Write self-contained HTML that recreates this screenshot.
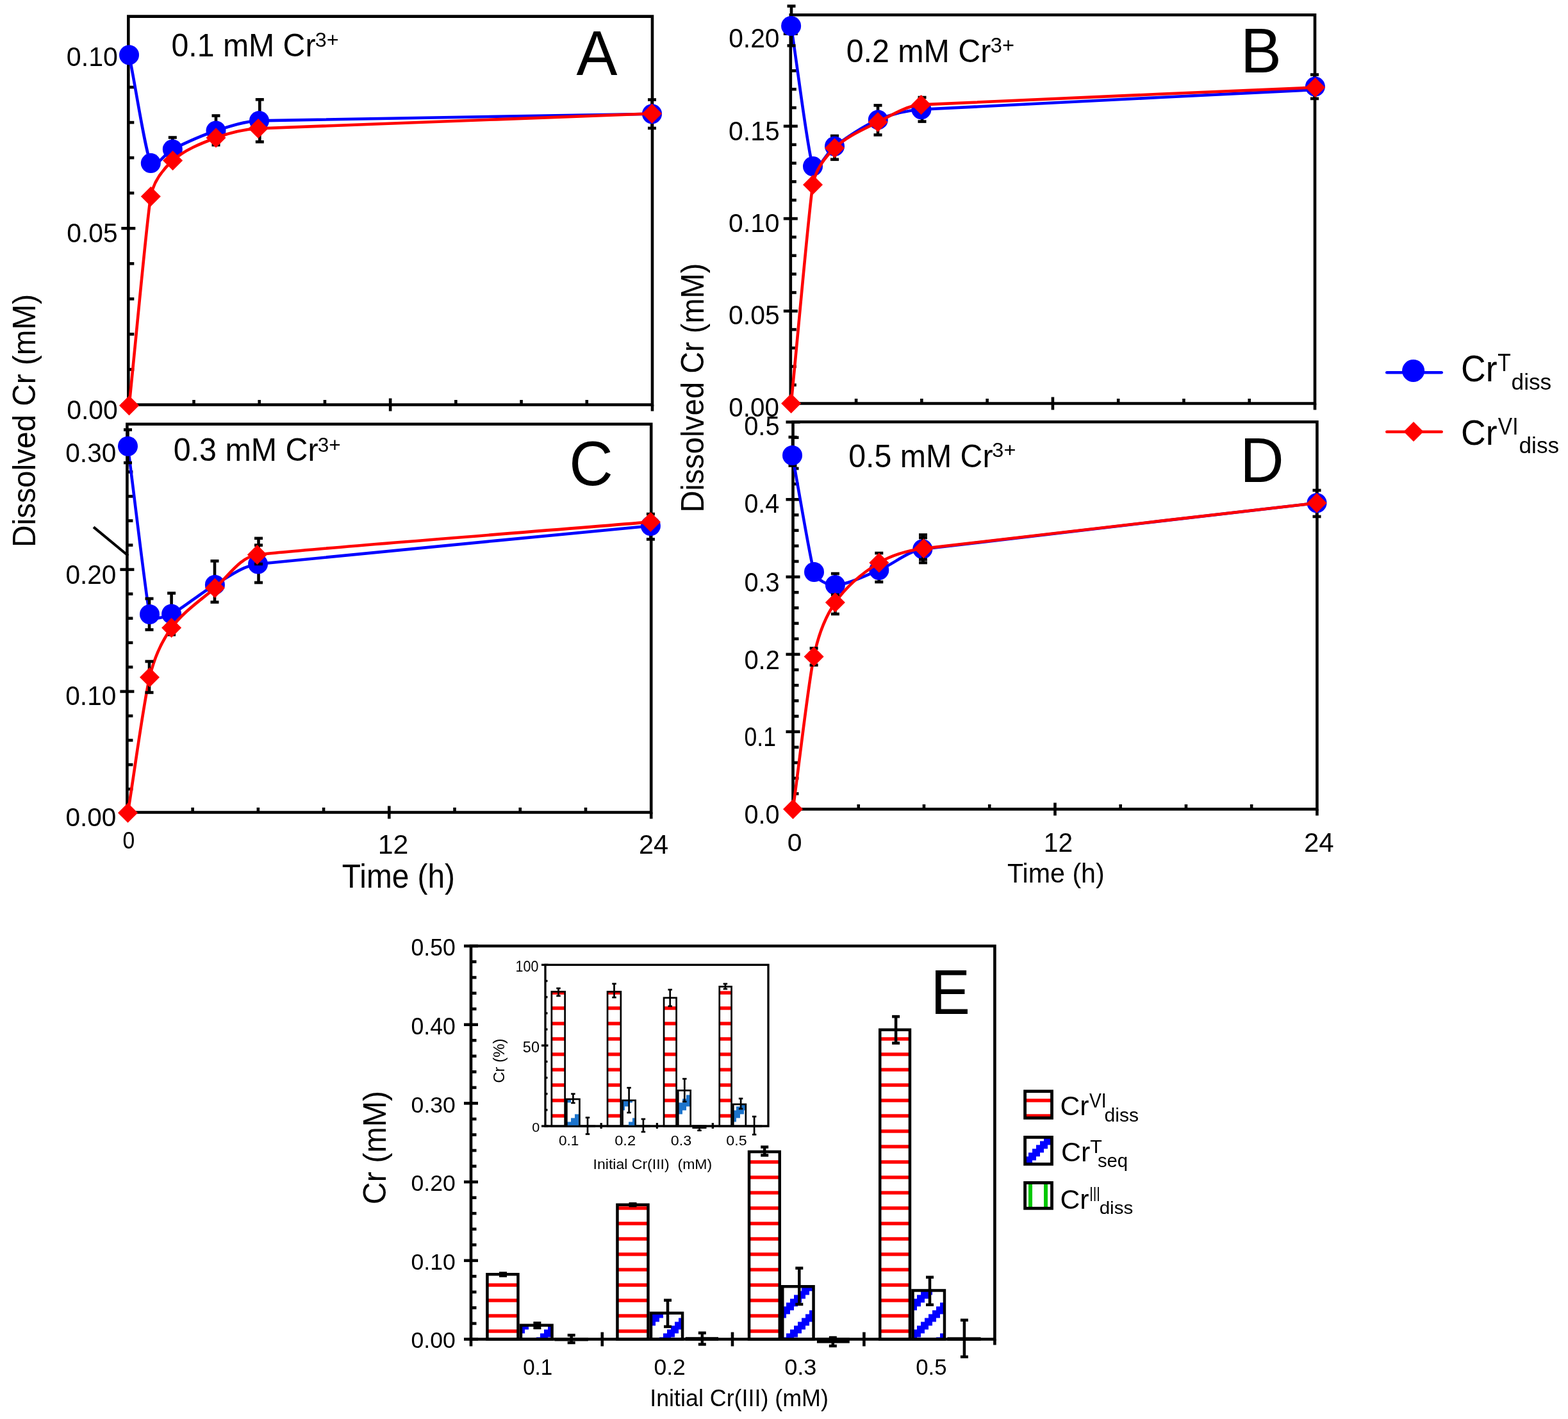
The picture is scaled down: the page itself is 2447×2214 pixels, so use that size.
<!DOCTYPE html>
<html><head><meta charset="utf-8"><title>Figure</title><style>html,body{margin:0;padding:0;background:#fff}svg{display:block}</style></head><body>
<svg width="2447" height="2214" viewBox="0 0 2447 2214" font-family="'Liberation Sans', Arial, Helvetica, sans-serif" fill="#000">
<rect width="2447" height="2214" fill="#fff"/>
<defs>
<pattern id="pr" patternUnits="userSpaceOnUse" x="0" y="0" width="24" height="24"><rect x="0" y="10.3" width="24" height="5.4" fill="#ff0000"/></pattern>
<pattern id="pg" patternUnits="userSpaceOnUse" x="-3" y="0" width="24" height="24"><rect x="0" y="0" width="6" height="24" fill="#00c800"/></pattern>
<pattern id="pb" patternUnits="userSpaceOnUse" x="3" y="4.4" width="48" height="48"><path d="M0 0h6v6h-6zM0 36h6v6h-6zM0 42h6v6h-6zM6 30h6v6h-6zM6 36h6v6h-6zM6 42h6v6h-6zM12 24h6v6h-6zM12 30h6v6h-6zM12 36h6v6h-6zM18 18h6v6h-6zM18 24h6v6h-6zM18 30h6v6h-6zM24 12h6v6h-6zM24 18h6v6h-6zM24 24h6v6h-6zM30 6h6v6h-6zM30 12h6v6h-6zM30 18h6v6h-6zM36 0h6v6h-6zM36 6h6v6h-6zM36 12h6v6h-6zM42 0h6v6h-6zM42 6h6v6h-6zM42 42h6v6h-6z" fill="#0000ff" shape-rendering="crispEdges"/></pattern>
<pattern id="pbi" patternUnits="userSpaceOnUse" x="3" y="4.4" width="48" height="48"><path d="M0 0h6v6h-6zM0 36h6v6h-6zM0 42h6v6h-6zM6 30h6v6h-6zM6 36h6v6h-6zM6 42h6v6h-6zM12 24h6v6h-6zM12 30h6v6h-6zM12 36h6v6h-6zM18 18h6v6h-6zM18 24h6v6h-6zM18 30h6v6h-6zM24 12h6v6h-6zM24 18h6v6h-6zM24 24h6v6h-6zM30 6h6v6h-6zM30 12h6v6h-6zM30 18h6v6h-6zM36 0h6v6h-6zM36 6h6v6h-6zM36 12h6v6h-6zM42 0h6v6h-6zM42 6h6v6h-6zM42 42h6v6h-6z" fill="#1c74cc" shape-rendering="crispEdges"/></pattern>
</defs>
<path d="M200.3 25.6H1018V631.5H200.3Z" fill="none" stroke="#000" stroke-width="4.6" stroke-linejoin="miter"/>
<line x1="189.3" y1="631.5" x2="211.3" y2="631.5" stroke="#000" stroke-width="4.6"/>
<line x1="200.3" y1="576.45" x2="209.3" y2="576.45" stroke="#000" stroke-width="4.6"/>
<line x1="200.3" y1="521.4" x2="209.3" y2="521.4" stroke="#000" stroke-width="4.6"/>
<line x1="200.3" y1="466.35" x2="209.3" y2="466.35" stroke="#000" stroke-width="4.6"/>
<line x1="200.3" y1="411.3" x2="209.3" y2="411.3" stroke="#000" stroke-width="4.6"/>
<line x1="189.3" y1="356.25" x2="211.3" y2="356.25" stroke="#000" stroke-width="4.6"/>
<line x1="200.3" y1="301.2" x2="209.3" y2="301.2" stroke="#000" stroke-width="4.6"/>
<line x1="200.3" y1="246.15" x2="209.3" y2="246.15" stroke="#000" stroke-width="4.6"/>
<line x1="200.3" y1="191.1" x2="209.3" y2="191.1" stroke="#000" stroke-width="4.6"/>
<line x1="200.3" y1="136.05" x2="209.3" y2="136.05" stroke="#000" stroke-width="4.6"/>
<line x1="189.3" y1="81" x2="211.3" y2="81" stroke="#000" stroke-width="4.6"/>
<line x1="302.51" y1="624" x2="302.51" y2="631.5" stroke="#000" stroke-width="4.6"/>
<line x1="404.73" y1="624" x2="404.73" y2="631.5" stroke="#000" stroke-width="4.6"/>
<line x1="506.94" y1="624" x2="506.94" y2="631.5" stroke="#000" stroke-width="4.6"/>
<line x1="711.36" y1="624" x2="711.36" y2="631.5" stroke="#000" stroke-width="4.6"/>
<line x1="813.58" y1="624" x2="813.58" y2="631.5" stroke="#000" stroke-width="4.6"/>
<line x1="915.79" y1="624" x2="915.79" y2="631.5" stroke="#000" stroke-width="4.6"/>
<line x1="609.15" y1="621.5" x2="609.15" y2="641.5" stroke="#000" stroke-width="4.6"/>
<line x1="1018" y1="631.5" x2="1018" y2="641.5" stroke="#000" stroke-width="4.6"/>
<text transform="translate(103.86 102.57) scale(0.9671 1)" font-size="42.51">0.10</text>
<text transform="translate(104.27 378.47) scale(0.9590 1)" font-size="42.51">0.05</text>
<text transform="translate(104.16 653.58) scale(0.9665 1)" font-size="42.37">0.00</text>
<text transform="translate(267.47 87.8) scale(0.9727 1)" font-size="49.58">0.1 mM Cr</text>
<text transform="translate(491.77 73.43) scale(1.0238 1)" font-size="31.57">3+</text>
<text transform="translate(899.41 117) scale(0.9677 1)" font-size="99.13">A</text>
<path d="M201.5 85.8C212.77 142.07 226.86 236.28 235.3 254.6C240.93 266.81 257.26 238.89 269.3 232.9C287.36 223.92 313.69 211.67 337 204C358.94 196.78 381.42 189.29 404.5 188.4C439.11 187.06 813.17 181.27 1017.5 177.7" fill="none" stroke="#0000ff" stroke-width="4.6" stroke-linejoin="round"/>
<line x1="269.3" y1="214.5" x2="269.3" y2="251.3" stroke="#000" stroke-width="4.6"/>
<line x1="262.8" y1="214.5" x2="275.8" y2="214.5" stroke="#000" stroke-width="4.6"/>
<line x1="262.8" y1="251.3" x2="275.8" y2="251.3" stroke="#000" stroke-width="4.6"/>
<line x1="337" y1="180.5" x2="337" y2="226.2" stroke="#000" stroke-width="4.6"/>
<line x1="330.5" y1="180.5" x2="343.5" y2="180.5" stroke="#000" stroke-width="4.6"/>
<line x1="330.5" y1="226.2" x2="343.5" y2="226.2" stroke="#000" stroke-width="4.6"/>
<line x1="405.3" y1="155.3" x2="405.3" y2="221.3" stroke="#000" stroke-width="4.6"/>
<line x1="398.8" y1="155.3" x2="411.8" y2="155.3" stroke="#000" stroke-width="4.6"/>
<line x1="398.8" y1="221.3" x2="411.8" y2="221.3" stroke="#000" stroke-width="4.6"/>
<line x1="1017.5" y1="155.5" x2="1017.5" y2="200" stroke="#000" stroke-width="4.6"/>
<line x1="1011" y1="155.5" x2="1024" y2="155.5" stroke="#000" stroke-width="4.6"/>
<line x1="1011" y1="200" x2="1024" y2="200" stroke="#000" stroke-width="4.6"/>
<circle cx="201.5" cy="85.8" r="15.5" fill="#0000ff"/>
<circle cx="235.3" cy="254.6" r="15.5" fill="#0000ff"/>
<circle cx="269.3" cy="232.9" r="15.5" fill="#0000ff"/>
<circle cx="337" cy="204" r="15.5" fill="#0000ff"/>
<circle cx="404.5" cy="188.4" r="15.5" fill="#0000ff"/>
<circle cx="1017.5" cy="177.7" r="15.5" fill="#0000ff"/>
<path d="M201.5 632.8C212.77 524 229.55 338.68 235.3 306.4C239.13 284.88 253.34 265.11 269.6 250.5C288.49 233.53 313.22 223.91 337 215C358.09 207.09 380.51 201.75 403 200.5C436.74 198.63 812.67 185.03 1017.5 177.3" fill="none" stroke="#ff0000" stroke-width="4.6" stroke-linejoin="round"/>
<path d="M201.5 617.3L217 632.8L201.5 648.3L186 632.8Z" fill="#ff0000"/>
<path d="M235.3 290.9L250.8 306.4L235.3 321.9L219.8 306.4Z" fill="#ff0000"/>
<path d="M269.6 235L285.1 250.5L269.6 266L254.1 250.5Z" fill="#ff0000"/>
<path d="M337 199.5L352.5 215L337 230.5L321.5 215Z" fill="#ff0000"/>
<path d="M403 185L418.5 200.5L403 216L387.5 200.5Z" fill="#ff0000"/>
<path d="M1017.5 161.8L1033 177.3L1017.5 192.8L1002 177.3Z" fill="#ff0000"/>
<path d="M1233.8 23.3H2052V629.5H1233.8Z" fill="none" stroke="#000" stroke-width="4.6" stroke-linejoin="miter"/>
<line x1="1222.8" y1="629.5" x2="1244.8" y2="629.5" stroke="#000" stroke-width="4.6"/>
<line x1="1233.8" y1="600.66" x2="1242.8" y2="600.66" stroke="#000" stroke-width="4.6"/>
<line x1="1233.8" y1="571.82" x2="1242.8" y2="571.82" stroke="#000" stroke-width="4.6"/>
<line x1="1233.8" y1="542.98" x2="1242.8" y2="542.98" stroke="#000" stroke-width="4.6"/>
<line x1="1233.8" y1="514.14" x2="1242.8" y2="514.14" stroke="#000" stroke-width="4.6"/>
<line x1="1222.8" y1="485.3" x2="1244.8" y2="485.3" stroke="#000" stroke-width="4.6"/>
<line x1="1233.8" y1="456.46" x2="1242.8" y2="456.46" stroke="#000" stroke-width="4.6"/>
<line x1="1233.8" y1="427.62" x2="1242.8" y2="427.62" stroke="#000" stroke-width="4.6"/>
<line x1="1233.8" y1="398.78" x2="1242.8" y2="398.78" stroke="#000" stroke-width="4.6"/>
<line x1="1233.8" y1="369.94" x2="1242.8" y2="369.94" stroke="#000" stroke-width="4.6"/>
<line x1="1222.8" y1="341.1" x2="1244.8" y2="341.1" stroke="#000" stroke-width="4.6"/>
<line x1="1233.8" y1="312.26" x2="1242.8" y2="312.26" stroke="#000" stroke-width="4.6"/>
<line x1="1233.8" y1="283.42" x2="1242.8" y2="283.42" stroke="#000" stroke-width="4.6"/>
<line x1="1233.8" y1="254.58" x2="1242.8" y2="254.58" stroke="#000" stroke-width="4.6"/>
<line x1="1233.8" y1="225.74" x2="1242.8" y2="225.74" stroke="#000" stroke-width="4.6"/>
<line x1="1222.8" y1="196.9" x2="1244.8" y2="196.9" stroke="#000" stroke-width="4.6"/>
<line x1="1233.8" y1="168.06" x2="1242.8" y2="168.06" stroke="#000" stroke-width="4.6"/>
<line x1="1233.8" y1="139.22" x2="1242.8" y2="139.22" stroke="#000" stroke-width="4.6"/>
<line x1="1233.8" y1="110.38" x2="1242.8" y2="110.38" stroke="#000" stroke-width="4.6"/>
<line x1="1222.8" y1="52.7" x2="1244.8" y2="52.7" stroke="#000" stroke-width="4.6"/>
<line x1="1336.08" y1="622" x2="1336.08" y2="629.5" stroke="#000" stroke-width="4.6"/>
<line x1="1438.35" y1="622" x2="1438.35" y2="629.5" stroke="#000" stroke-width="4.6"/>
<line x1="1540.62" y1="622" x2="1540.62" y2="629.5" stroke="#000" stroke-width="4.6"/>
<line x1="1745.17" y1="622" x2="1745.17" y2="629.5" stroke="#000" stroke-width="4.6"/>
<line x1="1847.45" y1="622" x2="1847.45" y2="629.5" stroke="#000" stroke-width="4.6"/>
<line x1="1949.72" y1="622" x2="1949.72" y2="629.5" stroke="#000" stroke-width="4.6"/>
<line x1="1642.9" y1="619.5" x2="1642.9" y2="639.5" stroke="#000" stroke-width="4.6"/>
<line x1="2052" y1="629.5" x2="2052" y2="639.5" stroke="#000" stroke-width="4.6"/>
<text transform="translate(1137.17 73.78) scale(0.9614 1)" font-size="42.37">0.20</text>
<text transform="translate(1137.06 219.07) scale(0.9565 1)" font-size="42.8">0.15</text>
<text transform="translate(1137.07 362.48) scale(0.9836 1)" font-size="41.53">0.10</text>
<text transform="translate(1137.06 506.48) scale(0.9693 1)" font-size="42.23">0.05</text>
<text transform="translate(1137.29 650.38) scale(0.9558 1)" font-size="42.23">0.00</text>
<text transform="translate(1320.67 96.51) scale(0.9781 1)" font-size="49.44">0.2 mM Cr</text>
<text transform="translate(1545.76 81.68) scale(1.0037 1)" font-size="32.49">3+</text>
<text transform="translate(1936.05 112.7) scale(0.9752 1)" font-size="98.11">B</text>
<path d="M1234.6 40.5C1245.9 113.5 1260.65 237.8 1268.5 259.5C1273.73 273.97 1289.98 237.23 1302.5 228.3C1321.29 214.9 1345.93 197.25 1370.3 186.9C1391.62 177.85 1414.79 172.39 1437.9 170.8C1472.56 168.42 1847.7 150.27 2052.6 140" fill="none" stroke="#0000ff" stroke-width="4.6" stroke-linejoin="round"/>
<line x1="1235" y1="9.5" x2="1235" y2="71.2" stroke="#000" stroke-width="4.6"/>
<line x1="1228.5" y1="9.5" x2="1241.5" y2="9.5" stroke="#000" stroke-width="4.6"/>
<line x1="1228.5" y1="71.2" x2="1241.5" y2="71.2" stroke="#000" stroke-width="4.6"/>
<line x1="1302.5" y1="212" x2="1302.5" y2="248.8" stroke="#000" stroke-width="4.6"/>
<line x1="1296" y1="212" x2="1309" y2="212" stroke="#000" stroke-width="4.6"/>
<line x1="1296" y1="248.8" x2="1309" y2="248.8" stroke="#000" stroke-width="4.6"/>
<line x1="1370" y1="164.4" x2="1370" y2="210.5" stroke="#000" stroke-width="4.6"/>
<line x1="1363.5" y1="164.4" x2="1376.5" y2="164.4" stroke="#000" stroke-width="4.6"/>
<line x1="1363.5" y1="210.5" x2="1376.5" y2="210.5" stroke="#000" stroke-width="4.6"/>
<line x1="1439" y1="152" x2="1439" y2="189.6" stroke="#000" stroke-width="4.6"/>
<line x1="1432.5" y1="152" x2="1445.5" y2="152" stroke="#000" stroke-width="4.6"/>
<line x1="1432.5" y1="189.6" x2="1445.5" y2="189.6" stroke="#000" stroke-width="4.6"/>
<line x1="2051.5" y1="116.5" x2="2051.5" y2="153.9" stroke="#000" stroke-width="4.6"/>
<line x1="2045" y1="116.5" x2="2058" y2="116.5" stroke="#000" stroke-width="4.6"/>
<line x1="2045" y1="153.9" x2="2058" y2="153.9" stroke="#000" stroke-width="4.6"/>
<circle cx="1234.6" cy="40.5" r="15.5" fill="#0000ff"/>
<circle cx="1268.5" cy="259.5" r="15.5" fill="#0000ff"/>
<circle cx="1302.5" cy="228.3" r="15.5" fill="#0000ff"/>
<circle cx="1370.3" cy="186.9" r="15.5" fill="#0000ff"/>
<circle cx="1437.9" cy="170.8" r="15.5" fill="#0000ff"/>
<circle cx="2052.4" cy="135.1" r="15.5" fill="#0000ff"/>
<path d="M1234.6 629.6C1245.9 515.8 1262.91 321 1268.5 288.2C1272.22 266.33 1286.51 246.37 1302.5 231C1321.4 212.82 1346.55 202.34 1370 190.6C1391.69 179.74 1413.32 165.32 1437.5 163.4C1473.77 160.52 1847.57 145.4 2052.6 136.4" fill="none" stroke="#ff0000" stroke-width="4.6" stroke-linejoin="round"/>
<path d="M1234.6 614.1L1250.1 629.6L1234.6 645.1L1219.1 629.6Z" fill="#ff0000"/>
<path d="M1268.5 272.7L1284 288.2L1268.5 303.7L1253 288.2Z" fill="#ff0000"/>
<path d="M1302.5 215.5L1318 231L1302.5 246.5L1287 231Z" fill="#ff0000"/>
<path d="M1370 175.1L1385.5 190.6L1370 206.1L1354.5 190.6Z" fill="#ff0000"/>
<path d="M1437.5 147.9L1453 163.4L1437.5 178.9L1422 163.4Z" fill="#ff0000"/>
<path d="M2052.6 120.9L2068.1 136.4L2052.6 151.9L2037.1 136.4Z" fill="#ff0000"/>
<path d="M198.4 661.7H1016.2V1267.5H198.4Z" fill="none" stroke="#000" stroke-width="4.6" stroke-linejoin="miter"/>
<line x1="187.4" y1="1269.2" x2="209.4" y2="1269.2" stroke="#000" stroke-width="4.6"/>
<line x1="198.4" y1="1231.14" x2="207.4" y2="1231.14" stroke="#000" stroke-width="4.6"/>
<line x1="198.4" y1="1193.08" x2="207.4" y2="1193.08" stroke="#000" stroke-width="4.6"/>
<line x1="198.4" y1="1155.02" x2="207.4" y2="1155.02" stroke="#000" stroke-width="4.6"/>
<line x1="198.4" y1="1116.96" x2="207.4" y2="1116.96" stroke="#000" stroke-width="4.6"/>
<line x1="187.4" y1="1078.9" x2="209.4" y2="1078.9" stroke="#000" stroke-width="4.6"/>
<line x1="198.4" y1="1040.84" x2="207.4" y2="1040.84" stroke="#000" stroke-width="4.6"/>
<line x1="198.4" y1="1002.78" x2="207.4" y2="1002.78" stroke="#000" stroke-width="4.6"/>
<line x1="198.4" y1="964.72" x2="207.4" y2="964.72" stroke="#000" stroke-width="4.6"/>
<line x1="198.4" y1="926.66" x2="207.4" y2="926.66" stroke="#000" stroke-width="4.6"/>
<line x1="187.4" y1="888.6" x2="209.4" y2="888.6" stroke="#000" stroke-width="4.6"/>
<line x1="198.4" y1="850.54" x2="207.4" y2="850.54" stroke="#000" stroke-width="4.6"/>
<line x1="198.4" y1="812.48" x2="207.4" y2="812.48" stroke="#000" stroke-width="4.6"/>
<line x1="198.4" y1="774.42" x2="207.4" y2="774.42" stroke="#000" stroke-width="4.6"/>
<line x1="198.4" y1="736.36" x2="207.4" y2="736.36" stroke="#000" stroke-width="4.6"/>
<line x1="187.4" y1="698.3" x2="209.4" y2="698.3" stroke="#000" stroke-width="4.6"/>
<line x1="300.62" y1="1260" x2="300.62" y2="1267.5" stroke="#000" stroke-width="4.6"/>
<line x1="402.85" y1="1260" x2="402.85" y2="1267.5" stroke="#000" stroke-width="4.6"/>
<line x1="505.08" y1="1260" x2="505.08" y2="1267.5" stroke="#000" stroke-width="4.6"/>
<line x1="709.53" y1="1260" x2="709.53" y2="1267.5" stroke="#000" stroke-width="4.6"/>
<line x1="811.75" y1="1260" x2="811.75" y2="1267.5" stroke="#000" stroke-width="4.6"/>
<line x1="913.98" y1="1260" x2="913.98" y2="1267.5" stroke="#000" stroke-width="4.6"/>
<line x1="607.3" y1="1257.5" x2="607.3" y2="1277.5" stroke="#000" stroke-width="4.6"/>
<line x1="1016.2" y1="1267.5" x2="1016.2" y2="1277.5" stroke="#000" stroke-width="4.6"/>
<text transform="translate(102.27 721.48) scale(0.9621 1)" font-size="42.23">0.30</text>
<text transform="translate(102.38 910.98) scale(0.9641 1)" font-size="42.09">0.20</text>
<text transform="translate(102.27 1100.48) scale(0.9621 1)" font-size="42.23">0.10</text>
<text transform="translate(102.38 1289.09) scale(0.9839 1)" font-size="41.24">0.00</text>
<text transform="translate(270.66 719.41) scale(0.9798 1)" font-size="49.44">0.3 mM Cr</text>
<text transform="translate(495.7 705.38) scale(0.9887 1)" font-size="31.92">3+</text>
<text transform="translate(888.26 757.11) scale(0.9561 1)" font-size="99.15">C</text>
<text transform="translate(191.55 1324.34) scale(0.9315 1)" font-size="36.16">0</text>
<text transform="translate(589.64 1332.2) scale(1.0185 1)" font-size="42.12">12</text>
<text transform="translate(996.93 1332.2) scale(0.9846 1)" font-size="42.12">24</text>
<path d="M199.5 696.3C210.83 783.7 229.21 942 233.5 958.5C236.36 969.5 257.24 962.69 267.6 958C283.14 950.97 311.82 926.03 335.4 912.4C356.93 899.96 377.96 883.33 402.6 880C439.57 875 811.13 840.33 1015.4 820.5" fill="none" stroke="#0000ff" stroke-width="4.6" stroke-linejoin="round"/>
<line x1="199.5" y1="670.5" x2="199.5" y2="722" stroke="#000" stroke-width="4.6"/>
<line x1="193" y1="670.5" x2="206" y2="670.5" stroke="#000" stroke-width="4.6"/>
<line x1="193" y1="722" x2="206" y2="722" stroke="#000" stroke-width="4.6"/>
<line x1="233" y1="934" x2="233" y2="982.5" stroke="#000" stroke-width="4.6"/>
<line x1="226.5" y1="934" x2="239.5" y2="934" stroke="#000" stroke-width="4.6"/>
<line x1="226.5" y1="982.5" x2="239.5" y2="982.5" stroke="#000" stroke-width="4.6"/>
<line x1="267.6" y1="925.5" x2="267.6" y2="990.3" stroke="#000" stroke-width="4.6"/>
<line x1="261.1" y1="925.5" x2="274.1" y2="925.5" stroke="#000" stroke-width="4.6"/>
<line x1="261.1" y1="990.3" x2="274.1" y2="990.3" stroke="#000" stroke-width="4.6"/>
<line x1="335" y1="875.3" x2="335" y2="939.5" stroke="#000" stroke-width="4.6"/>
<line x1="328.5" y1="875.3" x2="341.5" y2="875.3" stroke="#000" stroke-width="4.6"/>
<line x1="328.5" y1="939.5" x2="341.5" y2="939.5" stroke="#000" stroke-width="4.6"/>
<line x1="403.5" y1="839.9" x2="403.5" y2="909" stroke="#000" stroke-width="4.6"/>
<line x1="397" y1="839.9" x2="410" y2="839.9" stroke="#000" stroke-width="4.6"/>
<line x1="397" y1="909" x2="410" y2="909" stroke="#000" stroke-width="4.6"/>
<line x1="1015.4" y1="802" x2="1015.4" y2="841.4" stroke="#000" stroke-width="4.6"/>
<line x1="1008.9" y1="802" x2="1021.9" y2="802" stroke="#000" stroke-width="4.6"/>
<line x1="1008.9" y1="841.4" x2="1021.9" y2="841.4" stroke="#000" stroke-width="4.6"/>
<circle cx="199.5" cy="696.3" r="15.5" fill="#0000ff"/>
<circle cx="233.5" cy="958.5" r="15.5" fill="#0000ff"/>
<circle cx="267.6" cy="958" r="15.5" fill="#0000ff"/>
<circle cx="335.4" cy="912.4" r="15.5" fill="#0000ff"/>
<circle cx="402.6" cy="880" r="15.5" fill="#0000ff"/>
<circle cx="1015.4" cy="820.5" r="15.5" fill="#0000ff"/>
<path d="M199.5 1268.3C210.83 1197.77 223.82 1097.73 233.5 1056.7C239.95 1029.35 251.01 1002.28 267.6 979.6C285.71 954.85 312.05 937.29 335.4 917.4C356.69 899.26 373.75 869.79 401.4 865.6C442.88 859.32 810.73 831.47 1015.4 814.4" fill="none" stroke="#ff0000" stroke-width="4.6" stroke-linejoin="round"/>
<line x1="233" y1="1032" x2="233" y2="1080.5" stroke="#000" stroke-width="4.6"/>
<line x1="226.5" y1="1032" x2="239.5" y2="1032" stroke="#000" stroke-width="4.6"/>
<line x1="226.5" y1="1080.5" x2="239.5" y2="1080.5" stroke="#000" stroke-width="4.6"/>
<line x1="403.5" y1="850.6" x2="403.5" y2="880" stroke="#000" stroke-width="4.6"/>
<line x1="397" y1="850.6" x2="410" y2="850.6" stroke="#000" stroke-width="4.6"/>
<line x1="397" y1="880" x2="410" y2="880" stroke="#000" stroke-width="4.6"/>
<path d="M199.5 1252.8L215 1268.3L199.5 1283.8L184 1268.3Z" fill="#ff0000"/>
<path d="M233.5 1041.2L249 1056.7L233.5 1072.2L218 1056.7Z" fill="#ff0000"/>
<path d="M267.6 964.1L283.1 979.6L267.6 995.1L252.1 979.6Z" fill="#ff0000"/>
<path d="M335.4 901.9L350.9 917.4L335.4 932.9L319.9 917.4Z" fill="#ff0000"/>
<path d="M401.4 850.1L416.9 865.6L401.4 881.1L385.9 865.6Z" fill="#ff0000"/>
<path d="M1015.4 798.9L1030.9 814.4L1015.4 829.9L999.9 814.4Z" fill="#ff0000"/>
<path d="M1237.5 658.2H2055.4V1262.5H1237.5Z" fill="none" stroke="#000" stroke-width="4.6" stroke-linejoin="miter"/>
<line x1="1226.5" y1="1262.5" x2="1248.5" y2="1262.5" stroke="#000" stroke-width="4.6"/>
<line x1="1237.5" y1="1238.34" x2="1246.5" y2="1238.34" stroke="#000" stroke-width="4.6"/>
<line x1="1237.5" y1="1214.18" x2="1246.5" y2="1214.18" stroke="#000" stroke-width="4.6"/>
<line x1="1237.5" y1="1190.02" x2="1246.5" y2="1190.02" stroke="#000" stroke-width="4.6"/>
<line x1="1237.5" y1="1165.86" x2="1246.5" y2="1165.86" stroke="#000" stroke-width="4.6"/>
<line x1="1226.5" y1="1141.7" x2="1248.5" y2="1141.7" stroke="#000" stroke-width="4.6"/>
<line x1="1237.5" y1="1117.54" x2="1246.5" y2="1117.54" stroke="#000" stroke-width="4.6"/>
<line x1="1237.5" y1="1093.38" x2="1246.5" y2="1093.38" stroke="#000" stroke-width="4.6"/>
<line x1="1237.5" y1="1069.22" x2="1246.5" y2="1069.22" stroke="#000" stroke-width="4.6"/>
<line x1="1237.5" y1="1045.06" x2="1246.5" y2="1045.06" stroke="#000" stroke-width="4.6"/>
<line x1="1226.5" y1="1020.9" x2="1248.5" y2="1020.9" stroke="#000" stroke-width="4.6"/>
<line x1="1237.5" y1="996.74" x2="1246.5" y2="996.74" stroke="#000" stroke-width="4.6"/>
<line x1="1237.5" y1="972.58" x2="1246.5" y2="972.58" stroke="#000" stroke-width="4.6"/>
<line x1="1237.5" y1="948.42" x2="1246.5" y2="948.42" stroke="#000" stroke-width="4.6"/>
<line x1="1237.5" y1="924.26" x2="1246.5" y2="924.26" stroke="#000" stroke-width="4.6"/>
<line x1="1226.5" y1="900.1" x2="1248.5" y2="900.1" stroke="#000" stroke-width="4.6"/>
<line x1="1237.5" y1="875.94" x2="1246.5" y2="875.94" stroke="#000" stroke-width="4.6"/>
<line x1="1237.5" y1="851.78" x2="1246.5" y2="851.78" stroke="#000" stroke-width="4.6"/>
<line x1="1237.5" y1="827.62" x2="1246.5" y2="827.62" stroke="#000" stroke-width="4.6"/>
<line x1="1237.5" y1="803.46" x2="1246.5" y2="803.46" stroke="#000" stroke-width="4.6"/>
<line x1="1226.5" y1="779.3" x2="1248.5" y2="779.3" stroke="#000" stroke-width="4.6"/>
<line x1="1237.5" y1="755.14" x2="1246.5" y2="755.14" stroke="#000" stroke-width="4.6"/>
<line x1="1237.5" y1="730.98" x2="1246.5" y2="730.98" stroke="#000" stroke-width="4.6"/>
<line x1="1237.5" y1="706.82" x2="1246.5" y2="706.82" stroke="#000" stroke-width="4.6"/>
<line x1="1237.5" y1="682.66" x2="1246.5" y2="682.66" stroke="#000" stroke-width="4.6"/>
<line x1="1226.5" y1="658.5" x2="1248.5" y2="658.5" stroke="#000" stroke-width="4.6"/>
<line x1="1339.74" y1="1255" x2="1339.74" y2="1262.5" stroke="#000" stroke-width="4.6"/>
<line x1="1441.97" y1="1255" x2="1441.97" y2="1262.5" stroke="#000" stroke-width="4.6"/>
<line x1="1544.21" y1="1255" x2="1544.21" y2="1262.5" stroke="#000" stroke-width="4.6"/>
<line x1="1748.69" y1="1255" x2="1748.69" y2="1262.5" stroke="#000" stroke-width="4.6"/>
<line x1="1850.93" y1="1255" x2="1850.93" y2="1262.5" stroke="#000" stroke-width="4.6"/>
<line x1="1953.16" y1="1255" x2="1953.16" y2="1262.5" stroke="#000" stroke-width="4.6"/>
<line x1="1646.45" y1="1252.5" x2="1646.45" y2="1272.5" stroke="#000" stroke-width="4.6"/>
<line x1="2055.4" y1="1262.5" x2="2055.4" y2="1272.5" stroke="#000" stroke-width="4.6"/>
<text transform="translate(1161.21 678.58) scale(0.9527 1)" font-size="41.81">0.5</text>
<text transform="translate(1161.43 800.38) scale(0.9341 1)" font-size="42.09">0.4</text>
<text transform="translate(1161.41 922.88) scale(0.9442 1)" font-size="42.09">0.3</text>
<text transform="translate(1161.4 1043.67) scale(0.9391 1)" font-size="42.51">0.2</text>
<text transform="translate(1161.58 1164.08) scale(0.8487 1)" font-size="41.81">0.1</text>
<text transform="translate(1161.42 1284.98) scale(0.9462 1)" font-size="41.81">0.0</text>
<text transform="translate(1324.17 728.61) scale(0.9772 1)" font-size="49.44">0.5 mM Cr</text>
<text transform="translate(1548.36 713.19) scale(1.0321 1)" font-size="31.5">3+</text>
<text transform="translate(1935.13 751.9) scale(0.9588 1)" font-size="98.84">D</text>
<text transform="translate(1228.76 1327.8) scale(1.0331 1)" font-size="39.69">0</text>
<text transform="translate(1628.8 1328.8) scale(0.9518 1)" font-size="42.84">12</text>
<text transform="translate(2034.9 1328.5) scale(0.9950 1)" font-size="42.26">24</text>
<path d="M1236.5 710.5C1247.83 771.17 1264.43 874.15 1270.5 892.5C1274.55 904.73 1290.52 913.18 1303.4 912.8C1322.72 912.23 1349.52 898.65 1371.8 889.5C1395.07 879.95 1414.94 860.61 1439.8 856.8C1477.09 851.09 1849.93 808.8 2055 784.8" fill="none" stroke="#0000ff" stroke-width="4.6" stroke-linejoin="round"/>
<line x1="1237" y1="682" x2="1237" y2="726.5" stroke="#000" stroke-width="4.6"/>
<line x1="1230.5" y1="682" x2="1243.5" y2="682" stroke="#000" stroke-width="4.6"/>
<line x1="1230.5" y1="726.5" x2="1243.5" y2="726.5" stroke="#000" stroke-width="4.6"/>
<line x1="1303.4" y1="895" x2="1303.4" y2="935" stroke="#000" stroke-width="4.6"/>
<line x1="1296.9" y1="895" x2="1309.9" y2="895" stroke="#000" stroke-width="4.6"/>
<line x1="1296.9" y1="935" x2="1309.9" y2="935" stroke="#000" stroke-width="4.6"/>
<line x1="1371.8" y1="863" x2="1371.8" y2="908" stroke="#000" stroke-width="4.6"/>
<line x1="1365.3" y1="863" x2="1378.3" y2="863" stroke="#000" stroke-width="4.6"/>
<line x1="1365.3" y1="908" x2="1378.3" y2="908" stroke="#000" stroke-width="4.6"/>
<line x1="1440.5" y1="834.5" x2="1440.5" y2="878" stroke="#000" stroke-width="4.6"/>
<line x1="1434" y1="834.5" x2="1447" y2="834.5" stroke="#000" stroke-width="4.6"/>
<line x1="1434" y1="878" x2="1447" y2="878" stroke="#000" stroke-width="4.6"/>
<line x1="2055" y1="765" x2="2055" y2="806" stroke="#000" stroke-width="4.6"/>
<line x1="2048.5" y1="765" x2="2061.5" y2="765" stroke="#000" stroke-width="4.6"/>
<line x1="2048.5" y1="806" x2="2061.5" y2="806" stroke="#000" stroke-width="4.6"/>
<circle cx="1236.5" cy="710.5" r="15.5" fill="#0000ff"/>
<circle cx="1270.5" cy="892.5" r="15.5" fill="#0000ff"/>
<circle cx="1303.4" cy="912.8" r="15.5" fill="#0000ff"/>
<circle cx="1371.8" cy="889.5" r="15.5" fill="#0000ff"/>
<circle cx="1439.8" cy="856.8" r="15.5" fill="#0000ff"/>
<circle cx="2055" cy="784.8" r="15.5" fill="#0000ff"/>
<path d="M1237.5 1262.5C1248.37 1183.13 1261.02 1068.8 1270.1 1024.4C1276.15 994.8 1286.15 964.91 1303.4 940.1C1320.96 914.83 1345.54 894.15 1371.8 878.1C1392.56 865.41 1417.19 859.09 1441.3 855.8C1477.46 850.86 1850.43 808.47 2055 784.8" fill="none" stroke="#ff0000" stroke-width="4.6" stroke-linejoin="round"/>
<line x1="1270.1" y1="1011.5" x2="1270.1" y2="1037.7" stroke="#000" stroke-width="4.6"/>
<line x1="1263.6" y1="1011.5" x2="1276.6" y2="1011.5" stroke="#000" stroke-width="4.6"/>
<line x1="1263.6" y1="1037.7" x2="1276.6" y2="1037.7" stroke="#000" stroke-width="4.6"/>
<line x1="1303.4" y1="928" x2="1303.4" y2="958" stroke="#000" stroke-width="4.6"/>
<line x1="1296.9" y1="928" x2="1309.9" y2="928" stroke="#000" stroke-width="4.6"/>
<line x1="1296.9" y1="958" x2="1309.9" y2="958" stroke="#000" stroke-width="4.6"/>
<line x1="1440.5" y1="839" x2="1440.5" y2="873" stroke="#000" stroke-width="4.6"/>
<line x1="1434" y1="839" x2="1447" y2="839" stroke="#000" stroke-width="4.6"/>
<line x1="1434" y1="873" x2="1447" y2="873" stroke="#000" stroke-width="4.6"/>
<path d="M1237.5 1247L1253 1262.5L1237.5 1278L1222 1262.5Z" fill="#ff0000"/>
<path d="M1270.1 1008.9L1285.6 1024.4L1270.1 1039.9L1254.6 1024.4Z" fill="#ff0000"/>
<path d="M1303.4 924.6L1318.9 940.1L1303.4 955.6L1287.9 940.1Z" fill="#ff0000"/>
<path d="M1371.8 862.6L1387.3 878.1L1371.8 893.6L1356.3 878.1Z" fill="#ff0000"/>
<path d="M1441.3 840.3L1456.8 855.8L1441.3 871.3L1425.8 855.8Z" fill="#ff0000"/>
<path d="M2055 769.3L2070.5 784.8L2055 800.3L2039.5 784.8Z" fill="#ff0000"/>
<text transform="translate(533.85 1385.1) scale(0.9317 1)" font-size="51.31" style="white-space:pre">Time (h)</text>
<text transform="translate(1571.99 1376.8) scale(0.9511 1)" font-size="43.31" style="white-space:pre">Time (h)</text>
<text transform="translate(54.88 853.92) rotate(-90) scale(0.9717 1)" font-size="49.14">Dissolved Cr (mM)</text>
<text transform="translate(1098.13 799.55) rotate(-90) scale(0.9520 1)" font-size="49.36">Dissolved Cr (mM)</text>
<line x1="146" y1="822.4" x2="200" y2="867" stroke="#000" stroke-width="4.2"/>
<line x1="2164.3" y1="581.3" x2="2249.7" y2="581.3" stroke="#0000ff" stroke-width="4.6" stroke-linecap="round"/>
<circle cx="2205.6" cy="578.5" r="17.5" fill="#0000ff"/>
<line x1="2164.3" y1="673.7" x2="2249.7" y2="673.7" stroke="#ff0000" stroke-width="4.6" stroke-linecap="round"/>
<path d="M2206 658L2221.5 673.5L2206 689L2190.5 673.5Z" fill="#ff0000"/>
<text transform="translate(2280.12 595.33) scale(0.9471 1)" font-size="56.64">Cr</text>
<text transform="translate(2337.26 579) scale(0.8849 1)" font-size="37.94">T</text>
<text transform="translate(2358.52 607.65) scale(1.0159 1)" font-size="34.74">diss</text>
<text transform="translate(2280.12 693.84) scale(0.9640 1)" font-size="55.65">Cr</text>
<text transform="translate(2337.87 677.7) scale(0.9015 1)" font-size="37.06">VI</text>
<text transform="translate(2370.52 706.65) scale(1.0125 1)" font-size="34.74">diss</text>
<path d="M735 1476H1552.4V2089.5H735Z" fill="none" stroke="#000" stroke-width="4.6" stroke-linejoin="miter"/>
<line x1="724" y1="2089.5" x2="746" y2="2089.5" stroke="#000" stroke-width="4.6"/>
<line x1="735" y1="2064.96" x2="743.5" y2="2064.96" stroke="#000" stroke-width="4.6"/>
<line x1="735" y1="2040.42" x2="743.5" y2="2040.42" stroke="#000" stroke-width="4.6"/>
<line x1="735" y1="2015.88" x2="743.5" y2="2015.88" stroke="#000" stroke-width="4.6"/>
<line x1="735" y1="1991.34" x2="743.5" y2="1991.34" stroke="#000" stroke-width="4.6"/>
<line x1="724" y1="1966.8" x2="746" y2="1966.8" stroke="#000" stroke-width="4.6"/>
<line x1="735" y1="1942.26" x2="743.5" y2="1942.26" stroke="#000" stroke-width="4.6"/>
<line x1="735" y1="1917.72" x2="743.5" y2="1917.72" stroke="#000" stroke-width="4.6"/>
<line x1="735" y1="1893.18" x2="743.5" y2="1893.18" stroke="#000" stroke-width="4.6"/>
<line x1="735" y1="1868.64" x2="743.5" y2="1868.64" stroke="#000" stroke-width="4.6"/>
<line x1="724" y1="1844.1" x2="746" y2="1844.1" stroke="#000" stroke-width="4.6"/>
<line x1="735" y1="1819.56" x2="743.5" y2="1819.56" stroke="#000" stroke-width="4.6"/>
<line x1="735" y1="1795.02" x2="743.5" y2="1795.02" stroke="#000" stroke-width="4.6"/>
<line x1="735" y1="1770.48" x2="743.5" y2="1770.48" stroke="#000" stroke-width="4.6"/>
<line x1="735" y1="1745.94" x2="743.5" y2="1745.94" stroke="#000" stroke-width="4.6"/>
<line x1="724" y1="1721.4" x2="746" y2="1721.4" stroke="#000" stroke-width="4.6"/>
<line x1="735" y1="1696.86" x2="743.5" y2="1696.86" stroke="#000" stroke-width="4.6"/>
<line x1="735" y1="1672.32" x2="743.5" y2="1672.32" stroke="#000" stroke-width="4.6"/>
<line x1="735" y1="1647.78" x2="743.5" y2="1647.78" stroke="#000" stroke-width="4.6"/>
<line x1="735" y1="1623.24" x2="743.5" y2="1623.24" stroke="#000" stroke-width="4.6"/>
<line x1="724" y1="1598.7" x2="746" y2="1598.7" stroke="#000" stroke-width="4.6"/>
<line x1="735" y1="1574.16" x2="743.5" y2="1574.16" stroke="#000" stroke-width="4.6"/>
<line x1="735" y1="1549.62" x2="743.5" y2="1549.62" stroke="#000" stroke-width="4.6"/>
<line x1="735" y1="1525.08" x2="743.5" y2="1525.08" stroke="#000" stroke-width="4.6"/>
<line x1="735" y1="1500.54" x2="743.5" y2="1500.54" stroke="#000" stroke-width="4.6"/>
<line x1="724" y1="1476" x2="746" y2="1476" stroke="#000" stroke-width="4.6"/>
<line x1="939.8" y1="2078.5" x2="939.8" y2="2100.5" stroke="#000" stroke-width="4.6"/>
<line x1="1143" y1="2078.5" x2="1143" y2="2100.5" stroke="#000" stroke-width="4.6"/>
<line x1="1348.4" y1="2078.5" x2="1348.4" y2="2100.5" stroke="#000" stroke-width="4.6"/>
<line x1="735" y1="2089.5" x2="735" y2="2100.5" stroke="#000" stroke-width="4.6"/>
<line x1="1552.4" y1="2089.5" x2="1552.4" y2="2098.5" stroke="#000" stroke-width="4.6"/>
<text transform="translate(641.58 1491.24) scale(0.9884 1)" font-size="36.02">0.50</text>
<text transform="translate(641.58 1614.44) scale(0.9884 1)" font-size="36.02">0.40</text>
<text transform="translate(641.58 1735.85) scale(1.0246 1)" font-size="34.75">0.30</text>
<text transform="translate(641.58 1858.25) scale(1.0122 1)" font-size="35.17">0.20</text>
<text transform="translate(641.58 1981.25) scale(1.0122 1)" font-size="35.17">0.10</text>
<text transform="translate(641.58 2102.75) scale(1.0122 1)" font-size="35.17">0.00</text>
<text transform="translate(816.17 2145.15) scale(0.9549 1)" font-size="34.75">0.1</text>
<text transform="translate(1020.48 2145.15) scale(1.0228 1)" font-size="34.75">0.2</text>
<text transform="translate(1224.15 2145.15) scale(1.0402 1)" font-size="34.75">0.3</text>
<text x="1429.31" y="2145.15" font-size="34.75">0.5</text>
<text transform="translate(1014.2 2194.4) scale(0.9747 1)" font-size="36.77" style="white-space:pre">Initial Cr(III) (mM)</text>
<text transform="translate(601.83 1879.22) rotate(-90) scale(0.9805 1)" font-size="49.36">Cr (mM)</text>
<text transform="translate(1452.55 1581.8) scale(0.9342 1)" font-size="98.55">E</text>
<rect x="760.45" y="1988.25" width="48" height="101.2" fill="url(#pr)" stroke="#000" stroke-width="4.5"/>
<rect x="812.95" y="2067.75" width="48.6" height="21.7" fill="url(#pb)" stroke="#000" stroke-width="4.5"/>
<rect x="867.65" y="2089.55" width="48" height="0.6" fill="url(#pg)" stroke="#000" stroke-width="4.5"/>
<rect x="963.45" y="1879.75" width="48" height="209.7" fill="url(#pr)" stroke="#000" stroke-width="4.5"/>
<rect x="1015.95" y="2048.75" width="49.1" height="40.7" fill="url(#pb)" stroke="#000" stroke-width="4.5"/>
<rect x="1071.85" y="2088.45" width="46.9" height="1" fill="url(#pg)" stroke="#000" stroke-width="4.5"/>
<rect x="1169.05" y="1797.05" width="47.7" height="292.4" fill="url(#pr)" stroke="#000" stroke-width="4.5"/>
<rect x="1221.25" y="2007.25" width="48.3" height="82.2" fill="url(#pb)" stroke="#000" stroke-width="4.5"/>
<rect x="1277.15" y="2089.55" width="46.4" height="3.8" fill="url(#pg)" stroke="#000" stroke-width="4.5"/>
<rect x="1373.25" y="1606.75" width="46.7" height="482.7" fill="url(#pr)" stroke="#000" stroke-width="4.5"/>
<rect x="1424.45" y="2013.45" width="49.5" height="76" fill="url(#pb)" stroke="#000" stroke-width="4.5"/>
<rect x="1480.65" y="2088.65" width="47.7" height="0.8" fill="url(#pg)" stroke="#000" stroke-width="4.5"/>
<line x1="785" y1="1986.5" x2="785" y2="1990.5" stroke="#000" stroke-width="4.5"/>
<line x1="779" y1="1986.5" x2="791" y2="1986.5" stroke="#000" stroke-width="4.5"/>
<line x1="779" y1="1990.5" x2="791" y2="1990.5" stroke="#000" stroke-width="4.5"/>
<line x1="838.4" y1="2064.3" x2="838.4" y2="2071.8" stroke="#000" stroke-width="4.5"/>
<line x1="832.4" y1="2064.3" x2="844.4" y2="2064.3" stroke="#000" stroke-width="4.5"/>
<line x1="832.4" y1="2071.8" x2="844.4" y2="2071.8" stroke="#000" stroke-width="4.5"/>
<line x1="891.7" y1="2083.2" x2="891.7" y2="2095" stroke="#000" stroke-width="4.5"/>
<line x1="885.7" y1="2083.2" x2="897.7" y2="2083.2" stroke="#000" stroke-width="4.5"/>
<line x1="885.7" y1="2095" x2="897.7" y2="2095" stroke="#000" stroke-width="4.5"/>
<line x1="987.5" y1="1878.2" x2="987.5" y2="1881.2" stroke="#000" stroke-width="4.5"/>
<line x1="981.5" y1="1878.2" x2="993.5" y2="1878.2" stroke="#000" stroke-width="4.5"/>
<line x1="981.5" y1="1881.2" x2="993.5" y2="1881.2" stroke="#000" stroke-width="4.5"/>
<line x1="1042" y1="2028.7" x2="1042" y2="2069.9" stroke="#000" stroke-width="4.5"/>
<line x1="1036" y1="2028.7" x2="1048" y2="2028.7" stroke="#000" stroke-width="4.5"/>
<line x1="1036" y1="2069.9" x2="1048" y2="2069.9" stroke="#000" stroke-width="4.5"/>
<line x1="1095.8" y1="2079.7" x2="1095.8" y2="2097.5" stroke="#000" stroke-width="4.5"/>
<line x1="1089.8" y1="2079.7" x2="1101.8" y2="2079.7" stroke="#000" stroke-width="4.5"/>
<line x1="1089.8" y1="2097.5" x2="1101.8" y2="2097.5" stroke="#000" stroke-width="4.5"/>
<line x1="1193.2" y1="1789.6" x2="1193.2" y2="1802.5" stroke="#000" stroke-width="4.5"/>
<line x1="1187.2" y1="1789.6" x2="1199.2" y2="1789.6" stroke="#000" stroke-width="4.5"/>
<line x1="1187.2" y1="1802.5" x2="1199.2" y2="1802.5" stroke="#000" stroke-width="4.5"/>
<line x1="1247.3" y1="1978.6" x2="1247.3" y2="2035" stroke="#000" stroke-width="4.5"/>
<line x1="1241.3" y1="1978.6" x2="1253.3" y2="1978.6" stroke="#000" stroke-width="4.5"/>
<line x1="1241.3" y1="2035" x2="1253.3" y2="2035" stroke="#000" stroke-width="4.5"/>
<line x1="1299.8" y1="2087" x2="1299.8" y2="2100" stroke="#000" stroke-width="4.5"/>
<line x1="1293.8" y1="2087" x2="1305.8" y2="2087" stroke="#000" stroke-width="4.5"/>
<line x1="1293.8" y1="2100" x2="1305.8" y2="2100" stroke="#000" stroke-width="4.5"/>
<line x1="1398.1" y1="1586.1" x2="1398.1" y2="1627.5" stroke="#000" stroke-width="4.5"/>
<line x1="1392.1" y1="1586.1" x2="1404.1" y2="1586.1" stroke="#000" stroke-width="4.5"/>
<line x1="1392.1" y1="1627.5" x2="1404.1" y2="1627.5" stroke="#000" stroke-width="4.5"/>
<line x1="1451" y1="1992.8" x2="1451" y2="2035.8" stroke="#000" stroke-width="4.5"/>
<line x1="1445" y1="1992.8" x2="1457" y2="1992.8" stroke="#000" stroke-width="4.5"/>
<line x1="1445" y1="2035.8" x2="1457" y2="2035.8" stroke="#000" stroke-width="4.5"/>
<line x1="1504.9" y1="2059.7" x2="1504.9" y2="2117" stroke="#000" stroke-width="4.5"/>
<line x1="1498.9" y1="2059.7" x2="1510.9" y2="2059.7" stroke="#000" stroke-width="4.5"/>
<line x1="1498.9" y1="2117" x2="1510.9" y2="2117" stroke="#000" stroke-width="4.5"/>
<rect x="851" y="1505.4" width="348" height="251.6" fill="#fff" stroke="none"/>
<path d="M851 1505.4H1199V1757H851Z" fill="none" stroke="#000" stroke-width="3.3" stroke-linejoin="miter"/>
<line x1="845" y1="1757" x2="855.5" y2="1757" stroke="#000" stroke-width="3.3"/>
<line x1="851" y1="1731.84" x2="854.5" y2="1731.84" stroke="#000" stroke-width="3.3"/>
<line x1="851" y1="1706.68" x2="854.5" y2="1706.68" stroke="#000" stroke-width="3.3"/>
<line x1="851" y1="1681.52" x2="854.5" y2="1681.52" stroke="#000" stroke-width="3.3"/>
<line x1="851" y1="1656.36" x2="854.5" y2="1656.36" stroke="#000" stroke-width="3.3"/>
<line x1="845" y1="1631.2" x2="855.5" y2="1631.2" stroke="#000" stroke-width="3.3"/>
<line x1="851" y1="1606.04" x2="854.5" y2="1606.04" stroke="#000" stroke-width="3.3"/>
<line x1="851" y1="1580.88" x2="854.5" y2="1580.88" stroke="#000" stroke-width="3.3"/>
<line x1="851" y1="1555.72" x2="854.5" y2="1555.72" stroke="#000" stroke-width="3.3"/>
<line x1="851" y1="1530.56" x2="854.5" y2="1530.56" stroke="#000" stroke-width="3.3"/>
<line x1="845" y1="1505.4" x2="855.5" y2="1505.4" stroke="#000" stroke-width="3.3"/>
<line x1="938.2" y1="1752" x2="938.2" y2="1761" stroke="#000" stroke-width="3.3"/>
<line x1="1025.4" y1="1752" x2="1025.4" y2="1761" stroke="#000" stroke-width="3.3"/>
<line x1="1112.3" y1="1752" x2="1112.3" y2="1761" stroke="#000" stroke-width="3.3"/>
<text transform="translate(804.57 1515.56) scale(0.9112 1)" font-size="23.59">100</text>
<text transform="translate(815.86 1641.76) scale(0.9730 1)" font-size="24.15">50</text>
<text transform="translate(830.14 1765.8) scale(1.0820 1)" font-size="19.92">0</text>
<text transform="translate(787.11 1689.7) rotate(-90) scale(0.9807 1)" font-size="24.46">Cr (%)</text>
<text transform="translate(871.99 1787.08) scale(1.0349 1)" font-size="21.89">0.1</text>
<text transform="translate(959.15 1787.08) scale(1.0857 1)" font-size="21.89">0.2</text>
<text transform="translate(1046.87 1787.08) scale(1.0632 1)" font-size="21.89">0.3</text>
<text transform="translate(1133.37 1787.08) scale(1.0616 1)" font-size="21.89">0.5</text>
<text transform="translate(925.58 1824.4) scale(1.0237 1)" font-size="22.53" style="white-space:pre">Initial Cr(III)  (mM)</text>
<rect x="860.85" y="1547.25" width="20.8" height="209.9" fill="url(#pr)" stroke="#000" stroke-width="2.7"/>
<rect x="884.35" y="1714.95" width="20.1" height="42.2" fill="url(#pbi)" stroke="#000" stroke-width="2.7"/>
<rect x="907.15" y="1756.85" width="20.6" height="0.5" fill="url(#pg)" stroke="#000" stroke-width="2.7"/>
<rect x="948.05" y="1547.25" width="20.8" height="209.9" fill="url(#pr)" stroke="#000" stroke-width="2.7"/>
<rect x="971.55" y="1716.85" width="20.1" height="40.3" fill="url(#pbi)" stroke="#000" stroke-width="2.7"/>
<rect x="994.35" y="1756.85" width="19" height="0.5" fill="url(#pg)" stroke="#000" stroke-width="2.7"/>
<rect x="1036.05" y="1556.85" width="19.5" height="200.3" fill="url(#pr)" stroke="#000" stroke-width="2.7"/>
<rect x="1058.25" y="1701.35" width="19.4" height="55.8" fill="url(#pbi)" stroke="#000" stroke-width="2.7"/>
<rect x="1081.75" y="1756.85" width="19.4" height="2.8" fill="url(#pg)" stroke="#000" stroke-width="2.7"/>
<rect x="1122.75" y="1539.35" width="18.8" height="217.8" fill="url(#pr)" stroke="#000" stroke-width="2.7"/>
<rect x="1144.25" y="1722.95" width="19.6" height="34.2" fill="url(#pbi)" stroke="#000" stroke-width="2.7"/>
<rect x="1166.55" y="1756.85" width="21.3" height="0.5" fill="url(#pg)" stroke="#000" stroke-width="2.7"/>
<line x1="871.5" y1="1542" x2="871.5" y2="1553.9" stroke="#000" stroke-width="2.7"/>
<line x1="868.25" y1="1542" x2="874.75" y2="1542" stroke="#000" stroke-width="2.7"/>
<line x1="868.25" y1="1553.9" x2="874.75" y2="1553.9" stroke="#000" stroke-width="2.7"/>
<line x1="894.4" y1="1706.7" x2="894.4" y2="1720.9" stroke="#000" stroke-width="2.7"/>
<line x1="891.15" y1="1706.7" x2="897.65" y2="1706.7" stroke="#000" stroke-width="2.7"/>
<line x1="891.15" y1="1720.9" x2="897.65" y2="1720.9" stroke="#000" stroke-width="2.7"/>
<line x1="917" y1="1743.7" x2="917" y2="1769.5" stroke="#000" stroke-width="2.7"/>
<line x1="913.75" y1="1743.7" x2="920.25" y2="1743.7" stroke="#000" stroke-width="2.7"/>
<line x1="913.75" y1="1769.5" x2="920.25" y2="1769.5" stroke="#000" stroke-width="2.7"/>
<line x1="958.5" y1="1534.9" x2="958.5" y2="1556.2" stroke="#000" stroke-width="2.7"/>
<line x1="955.25" y1="1534.9" x2="961.75" y2="1534.9" stroke="#000" stroke-width="2.7"/>
<line x1="955.25" y1="1556.2" x2="961.75" y2="1556.2" stroke="#000" stroke-width="2.7"/>
<line x1="981.6" y1="1697.2" x2="981.6" y2="1736" stroke="#000" stroke-width="2.7"/>
<line x1="978.35" y1="1697.2" x2="984.85" y2="1697.2" stroke="#000" stroke-width="2.7"/>
<line x1="978.35" y1="1736" x2="984.85" y2="1736" stroke="#000" stroke-width="2.7"/>
<line x1="1003.9" y1="1746" x2="1003.9" y2="1766" stroke="#000" stroke-width="2.7"/>
<line x1="1000.65" y1="1746" x2="1007.15" y2="1746" stroke="#000" stroke-width="2.7"/>
<line x1="1000.65" y1="1766" x2="1007.15" y2="1766" stroke="#000" stroke-width="2.7"/>
<line x1="1045.7" y1="1544.1" x2="1045.7" y2="1569.9" stroke="#000" stroke-width="2.7"/>
<line x1="1042.45" y1="1544.1" x2="1048.95" y2="1544.1" stroke="#000" stroke-width="2.7"/>
<line x1="1042.45" y1="1569.9" x2="1048.95" y2="1569.9" stroke="#000" stroke-width="2.7"/>
<line x1="1068.3" y1="1683.2" x2="1068.3" y2="1718.8" stroke="#000" stroke-width="2.7"/>
<line x1="1065.05" y1="1683.2" x2="1071.55" y2="1683.2" stroke="#000" stroke-width="2.7"/>
<line x1="1065.05" y1="1718.8" x2="1071.55" y2="1718.8" stroke="#000" stroke-width="2.7"/>
<line x1="1091.5" y1="1757" x2="1091.5" y2="1763.8" stroke="#000" stroke-width="2.7"/>
<line x1="1088.25" y1="1757" x2="1094.75" y2="1757" stroke="#000" stroke-width="2.7"/>
<line x1="1088.25" y1="1763.8" x2="1094.75" y2="1763.8" stroke="#000" stroke-width="2.7"/>
<line x1="1131.9" y1="1535" x2="1131.9" y2="1543" stroke="#000" stroke-width="2.7"/>
<line x1="1128.65" y1="1535" x2="1135.15" y2="1535" stroke="#000" stroke-width="2.7"/>
<line x1="1128.65" y1="1543" x2="1135.15" y2="1543" stroke="#000" stroke-width="2.7"/>
<line x1="1156.1" y1="1714" x2="1156.1" y2="1730" stroke="#000" stroke-width="2.7"/>
<line x1="1152.85" y1="1714" x2="1159.35" y2="1714" stroke="#000" stroke-width="2.7"/>
<line x1="1152.85" y1="1730" x2="1159.35" y2="1730" stroke="#000" stroke-width="2.7"/>
<line x1="1177.1" y1="1742.1" x2="1177.1" y2="1770.2" stroke="#000" stroke-width="2.7"/>
<line x1="1173.85" y1="1742.1" x2="1180.35" y2="1742.1" stroke="#000" stroke-width="2.7"/>
<line x1="1173.85" y1="1770.2" x2="1180.35" y2="1770.2" stroke="#000" stroke-width="2.7"/>
<rect x="1599.6" y="1702.7" width="41.9" height="41.6" fill="url(#pr)" stroke="#000" stroke-width="4.8"/>
<rect x="1599.6" y="1774.4" width="41.9" height="41.9" fill="url(#pb)" stroke="#000" stroke-width="4.8"/>
<rect x="1599.6" y="1845.4" width="41.9" height="39.9" fill="url(#pg)" stroke="#000" stroke-width="4.8"/>
<text transform="translate(1654.46 1740.47) scale(1.0047 1)" font-size="42.51">Cr</text>
<text transform="translate(1699.89 1728) scale(0.9163 1)" font-size="30.81">VI</text>
<text transform="translate(1723.54 1749.71) scale(1.0477 1)" font-size="28.75">diss</text>
<text transform="translate(1656.05 1811.57) scale(1.0094 1)" font-size="42.51">Cr</text>
<text transform="translate(1701.13 1798.8) scale(1.0052 1)" font-size="30.23">T</text>
<text transform="translate(1712.88 1821.01) scale(1.0181 1)" font-size="28.82">seq</text>
<text transform="translate(1654.46 1885.57) scale(0.9915 1)" font-size="43.08">Cr</text>
<text transform="translate(1700.17 1874) scale(0.6502 1)" font-size="30.52">III</text>
<text transform="translate(1715.66 1894.42) scale(1.0594 1)" font-size="27.93">diss</text>
</svg>
</body></html>
